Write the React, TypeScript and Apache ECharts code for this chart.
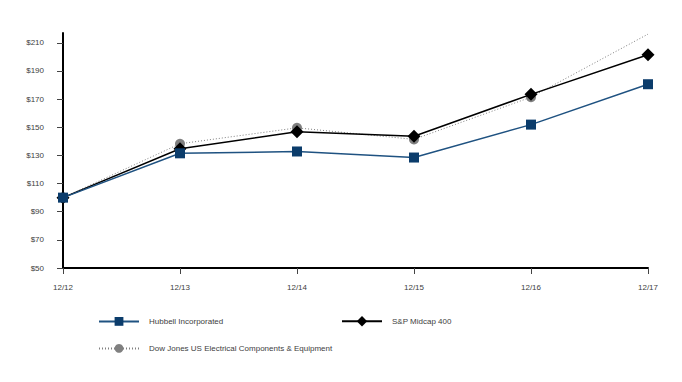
import React, { useEffect, useRef } from "react";
import * as echarts from "echarts";

const categories = ["12/12", "12/13", "12/14", "12/15", "12/16", "12/17"];
const hubbell = [100, 131.5, 132.8, 128.5, 151.9, 180.6];
const spMidcap = [100, 134.7, 146.9, 143.6, 173.4, 201.6];
const dowJones = [100, 138.3, 149.6, 141.4, 171.4, 216.2];
const yTicks = [50, 70, 90, 110, 130, 150, 170, 190, 210];

const NAMES = {
  hubbell: "Hubbell Incorporated",
  sp: "S&P Midcap 400",
  dow: "Dow Jones US Electrical Components & Equipment",
};

export default function App() {
  const ref = useRef<HTMLDivElement>(null);
  useEffect(() => {
    if (!ref.current) return;
    const chart = echarts.init(ref.current, null, { renderer: "svg" });
    const font = "'Liberation Sans', Arial, sans-serif";
    const textColor = "#404040";
    const legendBase = {
      orient: "horizontal" as const,
      itemWidth: 40,
      itemHeight: 11,
      padding: 0,
      selectedMode: false,
      textStyle: { fontFamily: font, fontSize: 8, color: textColor, padding: [0, 0, 0, 5] },
    };
    chart.setOption({
      animation: false,
      backgroundColor: "#ffffff",
      grid: { left: 63, right: 34, top: 33, bottom: 114 },
      legend: [
        { ...legendBase, data: [NAMES.hubbell], left: 98, top: 317 },
        { ...legendBase, itemHeight: 13, data: [NAMES.sp], left: 341, top: 316 },
        { ...legendBase, data: [NAMES.dow], left: 98, top: 344 },
      ],
      xAxis: {
        type: "category",
        data: categories,
        boundaryGap: false,
        axisLine: { lineStyle: { color: "#000", width: 2 } },
        axisTick: { show: true, length: 6, lineStyle: { color: "#444", width: 1 } },
        axisLabel: { fontFamily: font, fontSize: 8, color: textColor, margin: 15 },
        splitLine: { show: false },
      },
      yAxis: {
        type: "value",
        min: 50,
        max: 217,
        interval: 20,
        axisLine: { show: true, lineStyle: { color: "#000", width: 2 } },
        axisTick: { show: true, length: 6, customValues: yTicks, lineStyle: { color: "#444", width: 1 } },
        axisLabel: {
          fontFamily: font,
          fontSize: 8,
          color: textColor,
          margin: 19,
          customValues: yTicks,
          formatter: (v: number) => "$" + v,
        },
        splitLine: { show: false },
      },
      series: [
        {
          name: NAMES.dow,
          type: "line",
          data: dowJones.map((v, i) => (i === dowJones.length - 1 ? { value: v, symbol: "none" } : v)),
          symbol: "circle",
          symbolSize: 10,
          color: "#808080",
          lineStyle: { color: "#808080", width: 1, type: [1, 2] },
          itemStyle: { color: "#808080" },
          clip: false,
          z: 2,
        },
        {
          name: NAMES.sp,
          type: "line",
          data: spMidcap,
          symbol: "diamond",
          symbolSize: 13,
          color: "#000000",
          lineStyle: { color: "#000000", width: 1.5 },
          itemStyle: { color: "#000000" },
          z: 3,
        },
        {
          name: NAMES.hubbell,
          type: "line",
          data: hubbell,
          symbol: "rect",
          symbolSize: 10,
          color: "#0b3c6b",
          lineStyle: { color: "#1f5281", width: 1.5 },
          itemStyle: { color: "#0b3c6b" },
          z: 4,
        },
      ],
    });
    return () => chart.dispose();
  }, []);
  return <div ref={ref} style={{ width: 682, height: 382, position: "absolute", left: 0, top: 0 }} />;
}
